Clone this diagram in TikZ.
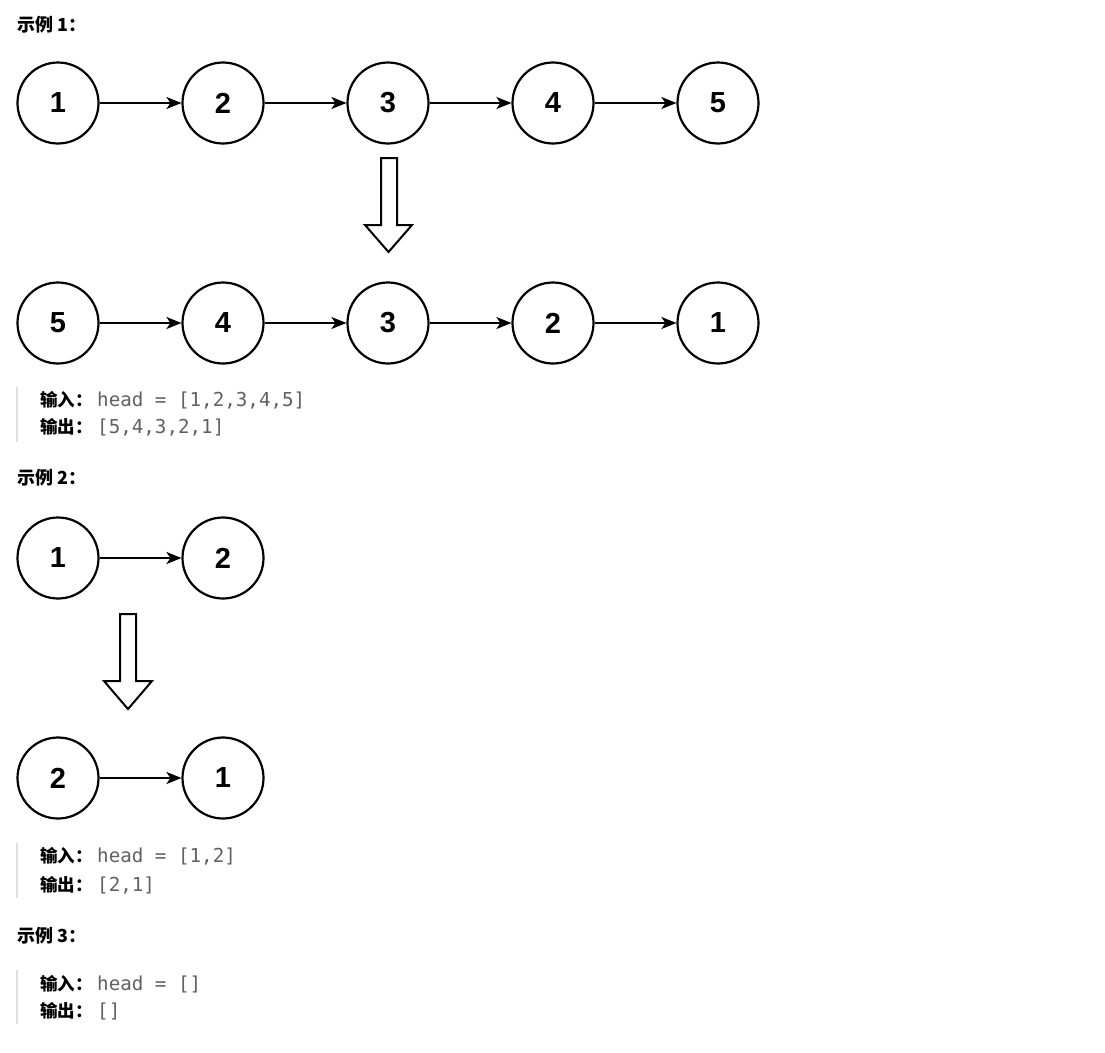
\documentclass[tikz,border=0pt]{standalone}
\usepackage{fontspec}
\usetikzlibrary{arrows.meta}
\newfontfamily\cjkfont{Noto Sans CJK SC}
\newfontfamily\numfont{Liberation Sans}
\newfontfamily\codefont{DejaVu Sans Mono}
\colorlet{gry}{black!62}
\colorlet{qbx}{black!12}
\tikzset{
    lnode/.style={circle,draw,line width=2.2pt,minimum size=81pt,inner sep=0pt,
        font=\numfont\bfseries\fontsize{29pt}{32pt}\selectfont},
    link/.style={line width=2pt,-{Stealth[length=15pt,width=12pt,inset=4pt]}},
    bigarrow/.style={draw,line width=2pt,line join=miter,fill=white},
    title/.style={anchor=base west,inner sep=0pt,font=\cjkfont\bfseries\fontsize{18pt}{21pt}\selectfont},
    lbl/.style={anchor=base west,inner sep=0pt,font=\cjkfont\bfseries\fontsize{17.5pt}{21pt}\selectfont},
    codetxt/.style={anchor=base west,inner sep=0pt,gry,font=\codefont\fontsize{19.2pt}{22pt}\selectfont},
    quotebar/.style={qbx,line width=2.5pt}
}
\begin{document}
\begin{tikzpicture}[x=1pt,y=-1pt]
    \fill[white] (0,0) rectangle (1105,1052);
    \useasboundingbox (0,0) rectangle (1105,1052);
    \node [title] (t1) at (17,31) {示例 1：};
    \foreach \n [count=\i] in {1,2,3,4,5} {
        \node [lnode] (a\i) at ({58+165*(\i-1)},103) {\n};
    }
    \foreach \n [count=\i] in {5,4,3,2,1} {
        \node [lnode] (b\i) at ({58+165*(\i-1)},323) {\n};
    }
    \foreach \i/\j in {1/2,2/3,3/4,4/5} {
        \draw [link] (a\i) -- (a\j);
        \draw [link] (b\i) -- (b\j);
    }
    \draw [bigarrow] (381,158) -- (397,158) -- (397,225) -- (412,225)
        -- (388.5,252) -- (365,225) -- (381,225) -- cycle;
    \draw [quotebar] (17,387) -- (17,442);
    \node [lbl] (in1) at (40,406) {输入：};
    \node [codetxt] (c1) at (97,406) {head = [1,2,3,4,5]};
    \node [lbl] (out1) at (40,433) {输出：};
    \node [codetxt] (o1) at (97,433) {[5,4,3,2,1]};

    \node [title] (t2) at (17,484) {示例 2：};
    \node [lnode] (c1) at (58,558) {1};
    \node [lnode] (c2) at (223,558) {2};
    \node [lnode] (d1) at (58,778) {2};
    \node [lnode] (d2) at (223,778) {1};
    \draw [link] (c1) -- (c2);
    \draw [link] (d1) -- (d2);
    \draw [bigarrow] (120,614) -- (136,614) -- (136,681) -- (152,681)
        -- (128,709) -- (104,681) -- (120,681) -- cycle;
    \draw [quotebar] (17,843) -- (17,898);
    \node [lbl] (in2) at (40,862) {输入：};
    \node [codetxt] (c2x) at (97,862) {head = [1,2]};
    \node [lbl] (out2) at (40,891) {输出：};
    \node [codetxt] (o2) at (97,891) {[2,1]};

    \node [title] (t3) at (17,942) {示例 3：};
    \draw [quotebar] (17,970) -- (17,1024);
    \node [lbl] (in3) at (40,990) {输入：};
    \node [codetxt] (c3) at (97,990) {head = []};
    \node [lbl] (out3) at (40,1017) {输出：};
    \node [codetxt] (o3) at (97,1017) {[]};
\end{tikzpicture}
\end{document}
